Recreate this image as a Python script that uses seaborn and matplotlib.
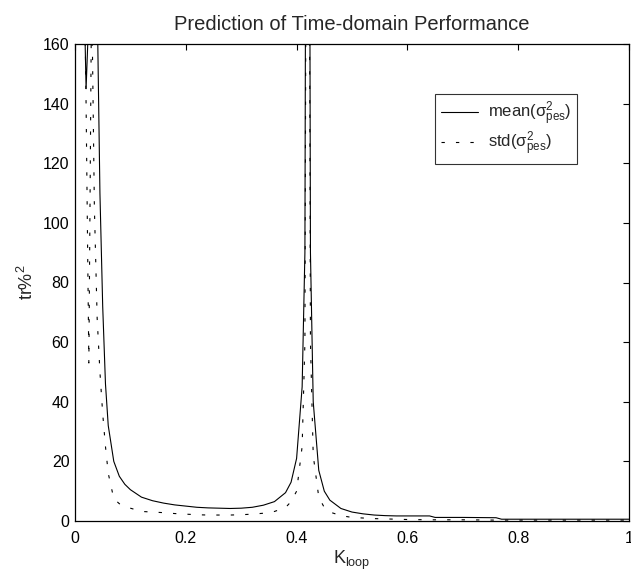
import numpy as np
import pandas as pd
import matplotlib
matplotlib.use("Agg")
import matplotlib.pyplot as plt
import seaborn as sns
from matplotlib.ticker import FormatStrFormatter

# K_loop grid (finer near the poles)
k_loop = [0.015, 0.02, 0.025, 0.03, 0.035, 0.04, 0.045, 0.05, 0.055, 0.06,
          0.07, 0.08, 0.09, 0.10, 0.12, 0.14, 0.16, 0.18, 0.20, 0.22,
          0.24, 0.26, 0.28, 0.30, 0.32, 0.34, 0.36, 0.38, 0.39, 0.40,
          0.41, 0.415, 0.42, 0.425, 0.43, 0.44, 0.45, 0.46, 0.48, 0.50,
          0.52, 0.54, 0.56, 0.58, 0.60, 0.62, 0.64, 0.65, 0.70, 0.76,
          0.77, 0.80, 0.90, 1.00]

mean_pes = [190, 145, 170, 400, 400, 175, 110, 72, 46, 32,
            20, 15, 12.3, 10.5, 8.0, 6.8, 6.0, 5.4, 5.0, 4.6,
            4.4, 4.3, 4.2, 4.3, 4.6, 5.3, 6.5, 9.5, 13, 21,
            45, 90, 500, 90, 40, 17, 10, 7, 4.2, 3.0,
            2.4, 2.0, 1.8, 1.7, 1.7, 1.7, 1.7, 1.2, 1.2, 1.1,
            0.6, 0.6, 0.6, 0.6]

std_pes = [210, 140, 53, 180, 105, 68, 50, 36, 25, 16,
           7.5, 5.8, 5.0, 4.3, 3.2, 3.0, 2.8, 2.5, 2.3, 2.1,
           2.0, 2.0, 2.0, 2.1, 2.3, 2.6, 3.2, 4.5, 6.5, 10,
           25, 60, 400, 60, 22, 8, 4.5, 3, 1.8, 1.2,
           1.0, 0.8, 0.7, 0.6, 0.5, 0.45, 0.4, 0.4, 0.4, 0.3,
           0.3, 0.3, 0.3, 0.3]

df = pd.DataFrame({"k": k_loop, "mean": mean_pes, "std": std_pes})

sns.set_style("white")
plt.rcParams["font.family"] = ["Liberation Sans", "DejaVu Sans"]
plt.rcParams["mathtext.fontset"] = "custom"
plt.rcParams["mathtext.rm"] = "Liberation Sans"
plt.rcParams["mathtext.it"] = "Liberation Sans"
plt.rcParams["mathtext.sf"] = "Liberation Sans"

fig = plt.figure(figsize=(6.31, 5.77), dpi=100)
ax = fig.add_axes([75 / 631, 56 / 577, 554 / 631, 477 / 577])

sns.lineplot(data=df, x="k", y="mean", ax=ax, color="black", linewidth=0.8,
             estimator=None, sort=False,
             label=r"mean($\mathrm{σ}^{2}_{\mathrm{pes}}$)")
sns.lineplot(data=df, x="k", y="std", ax=ax, color="black", linewidth=0.8,
             estimator=None, sort=False, linestyle=(0, (3, 10)),
             label=r"std($\mathrm{σ}^{2}_{\mathrm{pes}}$)")

ax.set_xlim(0, 1)
ax.set_ylim(0, 160)
ax.set_xticks([0, 0.2, 0.4, 0.6, 0.8, 1.0])
ax.set_yticks(range(0, 161, 20))
ax.xaxis.set_major_formatter(FormatStrFormatter("%g"))
ax.tick_params(direction="in", length=4, width=0.8, top=True, right=True,
               labelsize=11.5, colors="black")
ax.tick_params(axis="x", pad=7)
ax.tick_params(axis="y", pad=4)
for s in ax.spines.values():
    s.set_color("black")
    s.set_linewidth(0.9)

ax.set_title("Prediction of Time-domain Performance", fontsize=14.5, pad=10)
ax.set_xlabel(r"K$_{\mathrm{loop}}$", fontsize=13, labelpad=2)
ax.set_ylabel(r"tr%$^{2}$", fontsize=13, labelpad=4)

leg = ax.legend(loc="upper left", bbox_to_anchor=(0.65, 0.895), fontsize=12,
                frameon=True, fancybox=False, edgecolor="black",
                handlelength=2.2, handletextpad=0.6, labelspacing=0.1,
                borderpad=0.35, borderaxespad=0)
leg.get_frame().set_linewidth(0.8)

fig.savefig("out.png", dpi=100)
